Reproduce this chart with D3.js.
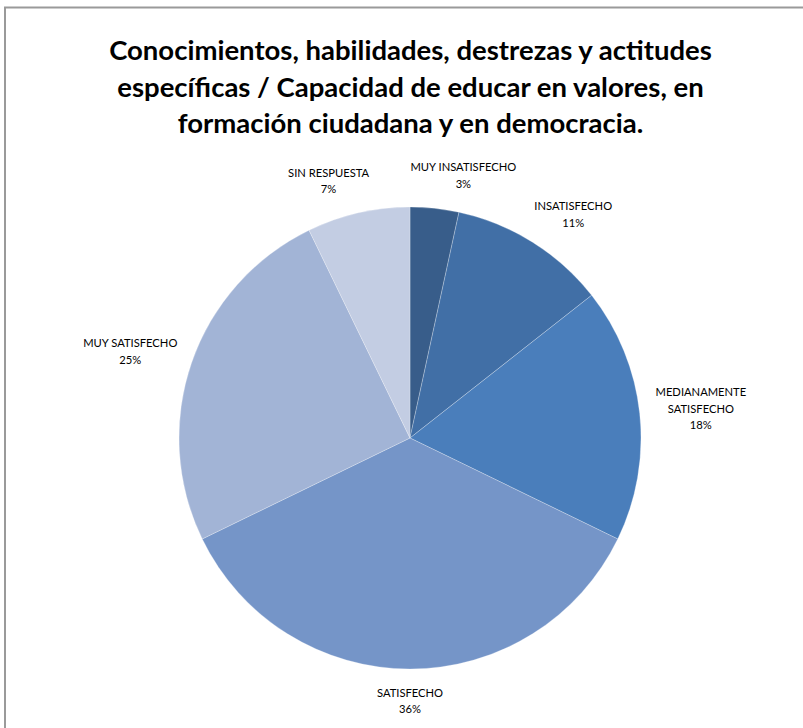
<!DOCTYPE html>
<html>
<head>
<meta charset="utf-8">
<script src="https://cdn.jsdelivr.net/npm/d3@7"></script>
<style>
html,body{margin:0;padding:0;background:#fff;overflow:hidden;}
svg{display:block;}
</style>
</head>
<body>
<svg id="chart" width="803" height="728"></svg>
<script>
const titleLines = [
  "Conocimientos, habilidades, destrezas y actitudes",
  "específicas / Capacidad de educar en valores, en",
  "formación ciudadana y en democracia."
];
const categories = ["MUY INSATISFECHO","INSATISFECHO","MEDIANAMENTE SATISFECHO","SATISFECHO","MUY SATISFECHO","SIN RESPUESTA"];
const labelLines = [["MUY INSATISFECHO"],["INSATISFECHO"],["MEDIANAMENTE","SATISFECHO"],["SATISFECHO"],["MUY SATISFECHO"],["SIN RESPUESTA"]];
const values = [3.4, 11.0, 17.8, 35.6, 25.0, 7.2];
const colors = ["#385d8a","#416fa6","#4a7ebb","#7595c8","#a2b4d6","#c3cde3"];

const svg = d3.select("#chart");
const W = 803, H = 728;

// chart area border
svg.append("rect").attr("x",5).attr("y",7.5).attr("width",W+10).attr("height",H+10)
  .attr("fill","#fff").attr("stroke","#9a9a9a").attr("stroke-width",2);

// title
const title = svg.append("text").attr("text-anchor","middle")
  .attr("font-family","Lato, 'Open Sans', sans-serif").attr("font-weight","bold")
  .attr("font-size",27.5).attr("fill","#000");
titleLines.forEach((t,i)=>{
  title.append("tspan").attr("x",410.5).attr("y",60 + i*36.5).text(t);
});

const cx = 410, cy = 438, R = 231;
const g = svg.append("g").attr("transform",`translate(${cx},${cy})`);
const pie = d3.pie().sort(null).value(d=>d)(values);
const arc = d3.arc().innerRadius(0).outerRadius(R);

g.selectAll("path.slice").data(pie).join("path")
  .attr("class","slice")
  .attr("d",arc)
  .attr("fill",(d,i)=>colors[i])
  .attr("stroke","rgba(255,255,255,0.35)")
  .attr("stroke-width",0.75);

const fmt = v => Math.round(v) + "%";
const lineH = 16.5, fs = 11.2;
const gap = 16;
pie.forEach((d,i)=>{
  const a = (d.startAngle + d.endAngle)/2;
  const lines = labelLines[i].concat([fmt(values[i])]);
  const t = g.append("text").attr("text-anchor","middle")
    .attr("font-family","Lato, 'Open Sans', sans-serif")
    .attr("font-size",fs).attr("fill","#000");
  lines.forEach((l,j)=>t.append("tspan").attr("x",0).attr("dy", j===0?0:lineH).text(l));
  const bb = t.node().getBBox();
  const w = bb.width, h = lines.length*lineH;
  const s = Math.sin(a), c = Math.cos(a);
  const px = s*(R+gap), py = -c*(R+gap);
  const bx = px + Math.sign(s)*Math.pow(Math.abs(s),0.3)*w/2;
  const by = py - c*h/2;
  t.attr("transform",`translate(${bx},${by - h/2 + lineH*0.72})`);
});
</script>
</body>
</html>
